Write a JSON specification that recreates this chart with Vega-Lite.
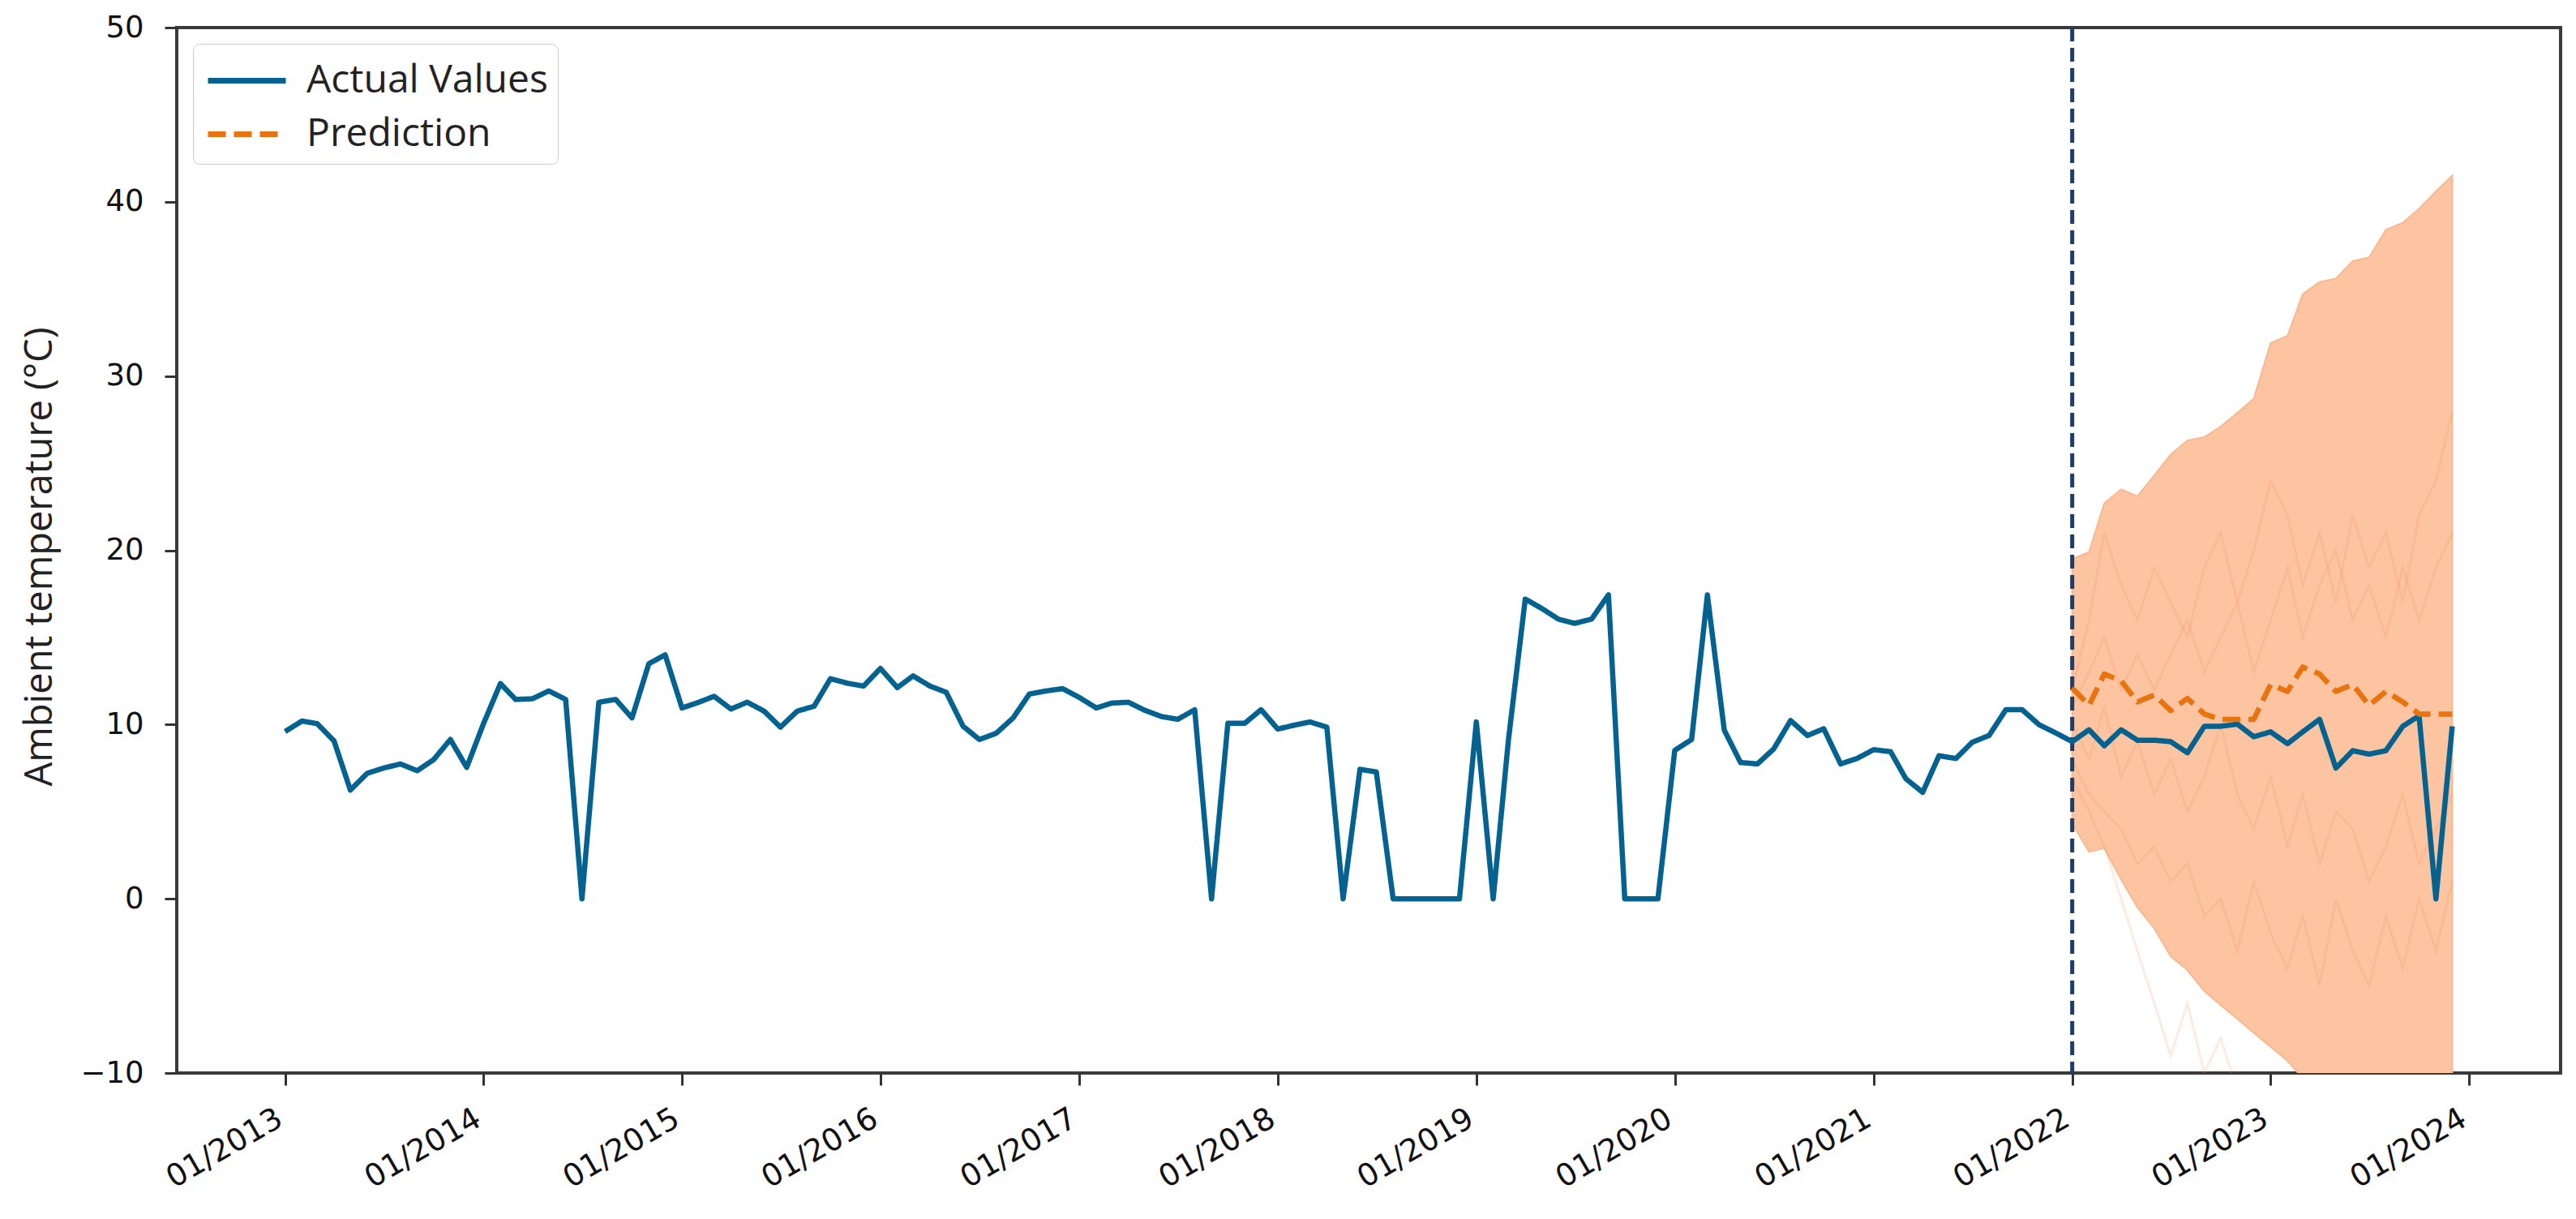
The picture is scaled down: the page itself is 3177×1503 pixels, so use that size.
{
  "$schema": "https://vega.github.io/schema/vega-lite/v6.json",
  "width": 2940,
  "height": 1289,
  "autosize": {"type": "none"},
  "padding": {"left": 218, "top": 34, "right": 19, "bottom": 180},
  "background": "white",
  "config": {
    "font": "DejaVu Sans",
    "view": {"stroke": "#3a3a3a", "strokeWidth": 4}
  },
  "datasets": {
    "lines": [
      {"date": "2013-01-01", "series": "Actual Values", "value": 9.6},
      {"date": "2013-02-01", "series": "Actual Values", "value": 10.2},
      {"date": "2013-03-01", "series": "Actual Values", "value": 10.05},
      {"date": "2013-04-01", "series": "Actual Values", "value": 9.06},
      {"date": "2013-05-01", "series": "Actual Values", "value": 6.24},
      {"date": "2013-06-01", "series": "Actual Values", "value": 7.2},
      {"date": "2013-07-01", "series": "Actual Values", "value": 7.5},
      {"date": "2013-08-01", "series": "Actual Values", "value": 7.74},
      {"date": "2013-09-01", "series": "Actual Values", "value": 7.35},
      {"date": "2013-10-01", "series": "Actual Values", "value": 7.98},
      {"date": "2013-11-01", "series": "Actual Values", "value": 9.14},
      {"date": "2013-12-01", "series": "Actual Values", "value": 7.54},
      {"date": "2014-01-01", "series": "Actual Values", "value": 10.06},
      {"date": "2014-02-01", "series": "Actual Values", "value": 12.35},
      {"date": "2014-03-01", "series": "Actual Values", "value": 11.44},
      {"date": "2014-04-01", "series": "Actual Values", "value": 11.48},
      {"date": "2014-05-01", "series": "Actual Values", "value": 11.93},
      {"date": "2014-06-01", "series": "Actual Values", "value": 11.44},
      {"date": "2014-07-01", "series": "Actual Values", "value": 0},
      {"date": "2014-08-01", "series": "Actual Values", "value": 11.28},
      {"date": "2014-09-01", "series": "Actual Values", "value": 11.44},
      {"date": "2014-10-01", "series": "Actual Values", "value": 10.38},
      {"date": "2014-11-01", "series": "Actual Values", "value": 13.49},
      {"date": "2014-12-01", "series": "Actual Values", "value": 14.0},
      {"date": "2015-01-01", "series": "Actual Values", "value": 10.95},
      {"date": "2015-02-01", "series": "Actual Values", "value": 11.28},
      {"date": "2015-03-01", "series": "Actual Values", "value": 11.62},
      {"date": "2015-04-01", "series": "Actual Values", "value": 10.89},
      {"date": "2015-05-01", "series": "Actual Values", "value": 11.28},
      {"date": "2015-06-01", "series": "Actual Values", "value": 10.77},
      {"date": "2015-07-01", "series": "Actual Values", "value": 9.85},
      {"date": "2015-08-01", "series": "Actual Values", "value": 10.77},
      {"date": "2015-09-01", "series": "Actual Values", "value": 11.05},
      {"date": "2015-10-01", "series": "Actual Values", "value": 12.63},
      {"date": "2015-11-01", "series": "Actual Values", "value": 12.37},
      {"date": "2015-12-01", "series": "Actual Values", "value": 12.21},
      {"date": "2016-01-01", "series": "Actual Values", "value": 13.22},
      {"date": "2016-02-01", "series": "Actual Values", "value": 12.12},
      {"date": "2016-03-01", "series": "Actual Values", "value": 12.79},
      {"date": "2016-04-01", "series": "Actual Values", "value": 12.21},
      {"date": "2016-05-01", "series": "Actual Values", "value": 11.85},
      {"date": "2016-06-01", "series": "Actual Values", "value": 9.9},
      {"date": "2016-07-01", "series": "Actual Values", "value": 9.14},
      {"date": "2016-08-01", "series": "Actual Values", "value": 9.5},
      {"date": "2016-09-01", "series": "Actual Values", "value": 10.38},
      {"date": "2016-10-01", "series": "Actual Values", "value": 11.75},
      {"date": "2016-11-01", "series": "Actual Values", "value": 11.93},
      {"date": "2016-12-01", "series": "Actual Values", "value": 12.06},
      {"date": "2017-01-01", "series": "Actual Values", "value": 11.55},
      {"date": "2017-02-01", "series": "Actual Values", "value": 10.95},
      {"date": "2017-03-01", "series": "Actual Values", "value": 11.23},
      {"date": "2017-04-01", "series": "Actual Values", "value": 11.28},
      {"date": "2017-05-01", "series": "Actual Values", "value": 10.82},
      {"date": "2017-06-01", "series": "Actual Values", "value": 10.46},
      {"date": "2017-07-01", "series": "Actual Values", "value": 10.3},
      {"date": "2017-08-01", "series": "Actual Values", "value": 10.85},
      {"date": "2017-09-01", "series": "Actual Values", "value": 0},
      {"date": "2017-10-01", "series": "Actual Values", "value": 10.07},
      {"date": "2017-11-01", "series": "Actual Values", "value": 10.07},
      {"date": "2017-12-01", "series": "Actual Values", "value": 10.85},
      {"date": "2018-01-01", "series": "Actual Values", "value": 9.74},
      {"date": "2018-02-01", "series": "Actual Values", "value": 9.97},
      {"date": "2018-03-01", "series": "Actual Values", "value": 10.15},
      {"date": "2018-04-01", "series": "Actual Values", "value": 9.85},
      {"date": "2018-05-01", "series": "Actual Values", "value": 0},
      {"date": "2018-06-01", "series": "Actual Values", "value": 7.43},
      {"date": "2018-07-01", "series": "Actual Values", "value": 7.28},
      {"date": "2018-08-01", "series": "Actual Values", "value": 0},
      {"date": "2018-09-01", "series": "Actual Values", "value": 0},
      {"date": "2018-10-01", "series": "Actual Values", "value": 0},
      {"date": "2018-11-01", "series": "Actual Values", "value": 0},
      {"date": "2018-12-01", "series": "Actual Values", "value": 0},
      {"date": "2019-01-01", "series": "Actual Values", "value": 10.15},
      {"date": "2019-02-01", "series": "Actual Values", "value": 0},
      {"date": "2019-03-01", "series": "Actual Values", "value": 9.1},
      {"date": "2019-04-01", "series": "Actual Values", "value": 17.2},
      {"date": "2019-05-01", "series": "Actual Values", "value": 16.67},
      {"date": "2019-06-01", "series": "Actual Values", "value": 16.05},
      {"date": "2019-07-01", "series": "Actual Values", "value": 15.81},
      {"date": "2019-08-01", "series": "Actual Values", "value": 16.05},
      {"date": "2019-09-01", "series": "Actual Values", "value": 17.44},
      {"date": "2019-10-01", "series": "Actual Values", "value": 0},
      {"date": "2019-11-01", "series": "Actual Values", "value": 0},
      {"date": "2019-12-01", "series": "Actual Values", "value": 0},
      {"date": "2020-01-01", "series": "Actual Values", "value": 8.52},
      {"date": "2020-02-01", "series": "Actual Values", "value": 9.14},
      {"date": "2020-03-01", "series": "Actual Values", "value": 17.44},
      {"date": "2020-04-01", "series": "Actual Values", "value": 9.68},
      {"date": "2020-05-01", "series": "Actual Values", "value": 7.82},
      {"date": "2020-06-01", "series": "Actual Values", "value": 7.74},
      {"date": "2020-07-01", "series": "Actual Values", "value": 8.6},
      {"date": "2020-08-01", "series": "Actual Values", "value": 10.23},
      {"date": "2020-09-01", "series": "Actual Values", "value": 9.37},
      {"date": "2020-10-01", "series": "Actual Values", "value": 9.76},
      {"date": "2020-11-01", "series": "Actual Values", "value": 7.74},
      {"date": "2020-12-01", "series": "Actual Values", "value": 8.05},
      {"date": "2021-01-01", "series": "Actual Values", "value": 8.56},
      {"date": "2021-02-01", "series": "Actual Values", "value": 8.44},
      {"date": "2021-03-01", "series": "Actual Values", "value": 6.89},
      {"date": "2021-04-01", "series": "Actual Values", "value": 6.11},
      {"date": "2021-05-01", "series": "Actual Values", "value": 8.21},
      {"date": "2021-06-01", "series": "Actual Values", "value": 8.05},
      {"date": "2021-07-01", "series": "Actual Values", "value": 8.98},
      {"date": "2021-08-01", "series": "Actual Values", "value": 9.37},
      {"date": "2021-09-01", "series": "Actual Values", "value": 10.85},
      {"date": "2021-10-01", "series": "Actual Values", "value": 10.85},
      {"date": "2021-11-01", "series": "Actual Values", "value": 9.99},
      {"date": "2021-12-01", "series": "Actual Values", "value": 9.53},
      {"date": "2022-01-01", "series": "Actual Values", "value": 9.02},
      {"date": "2022-02-01", "series": "Actual Values", "value": 9.7},
      {"date": "2022-03-01", "series": "Actual Values", "value": 8.78},
      {"date": "2022-04-01", "series": "Actual Values", "value": 9.7},
      {"date": "2022-05-01", "series": "Actual Values", "value": 9.1},
      {"date": "2022-06-01", "series": "Actual Values", "value": 9.1},
      {"date": "2022-07-01", "series": "Actual Values", "value": 9.02},
      {"date": "2022-08-01", "series": "Actual Values", "value": 8.38},
      {"date": "2022-09-01", "series": "Actual Values", "value": 9.9},
      {"date": "2022-10-01", "series": "Actual Values", "value": 9.9},
      {"date": "2022-11-01", "series": "Actual Values", "value": 10.02},
      {"date": "2022-12-01", "series": "Actual Values", "value": 9.3},
      {"date": "2023-01-01", "series": "Actual Values", "value": 9.58},
      {"date": "2023-02-01", "series": "Actual Values", "value": 8.9},
      {"date": "2023-03-01", "series": "Actual Values", "value": 9.58},
      {"date": "2023-04-01", "series": "Actual Values", "value": 10.3},
      {"date": "2023-05-01", "series": "Actual Values", "value": 7.5},
      {"date": "2023-06-01", "series": "Actual Values", "value": 8.5},
      {"date": "2023-07-01", "series": "Actual Values", "value": 8.3},
      {"date": "2023-08-01", "series": "Actual Values", "value": 8.5},
      {"date": "2023-09-01", "series": "Actual Values", "value": 9.9},
      {"date": "2023-10-01", "series": "Actual Values", "value": 10.5},
      {"date": "2023-11-01", "series": "Actual Values", "value": 0},
      {"date": "2023-12-01", "series": "Actual Values", "value": 9.9},
      {"date": "2022-01-01", "series": "Prediction", "value": 12.1},
      {"date": "2022-02-01", "series": "Prediction", "value": 11.1},
      {"date": "2022-03-01", "series": "Prediction", "value": 12.9},
      {"date": "2022-04-01", "series": "Prediction", "value": 12.5},
      {"date": "2022-05-01", "series": "Prediction", "value": 11.3},
      {"date": "2022-06-01", "series": "Prediction", "value": 11.7},
      {"date": "2022-07-01", "series": "Prediction", "value": 10.8},
      {"date": "2022-08-01", "series": "Prediction", "value": 11.5},
      {"date": "2022-09-01", "series": "Prediction", "value": 10.6},
      {"date": "2022-10-01", "series": "Prediction", "value": 10.3},
      {"date": "2022-11-01", "series": "Prediction", "value": 10.3},
      {"date": "2022-12-01", "series": "Prediction", "value": 10.3},
      {"date": "2023-01-01", "series": "Prediction", "value": 12.3},
      {"date": "2023-02-01", "series": "Prediction", "value": 11.9},
      {"date": "2023-03-01", "series": "Prediction", "value": 13.3},
      {"date": "2023-04-01", "series": "Prediction", "value": 12.9},
      {"date": "2023-05-01", "series": "Prediction", "value": 11.9},
      {"date": "2023-06-01", "series": "Prediction", "value": 12.3},
      {"date": "2023-07-01", "series": "Prediction", "value": 11.1},
      {"date": "2023-08-01", "series": "Prediction", "value": 11.9},
      {"date": "2023-09-01", "series": "Prediction", "value": 11.3},
      {"date": "2023-10-01", "series": "Prediction", "value": 10.6},
      {"date": "2023-11-01", "series": "Prediction", "value": 10.6},
      {"date": "2023-12-01", "series": "Prediction", "value": 10.6}
    ],
    "band": [
      {"date": "2022-01-01", "lo": 4.3, "hi": 19.5},
      {"date": "2022-02-01", "lo": 2.7, "hi": 19.9},
      {"date": "2022-03-01", "lo": 2.9, "hi": 22.7},
      {"date": "2022-04-01", "lo": 1.1, "hi": 23.5},
      {"date": "2022-05-01", "lo": -0.5, "hi": 23.1},
      {"date": "2022-06-01", "lo": -1.7, "hi": 24.3},
      {"date": "2022-07-01", "lo": -3.3, "hi": 25.5},
      {"date": "2022-08-01", "lo": -4.1, "hi": 26.3},
      {"date": "2022-09-01", "lo": -5.3, "hi": 26.5},
      {"date": "2022-10-01", "lo": -6.1, "hi": 27.1},
      {"date": "2022-11-01", "lo": -6.9, "hi": 27.9},
      {"date": "2022-12-01", "lo": -7.7, "hi": 28.7},
      {"date": "2023-01-01", "lo": -8.5, "hi": 31.9},
      {"date": "2023-02-01", "lo": -9.3, "hi": 32.3},
      {"date": "2023-03-01", "lo": -10.3, "hi": 34.7},
      {"date": "2023-04-01", "lo": -11, "hi": 35.4},
      {"date": "2023-05-01", "lo": -11.5, "hi": 35.6},
      {"date": "2023-06-01", "lo": -12, "hi": 36.6},
      {"date": "2023-07-01", "lo": -12.5, "hi": 36.8},
      {"date": "2023-08-01", "lo": -13, "hi": 38.4},
      {"date": "2023-09-01", "lo": -13.5, "hi": 38.8},
      {"date": "2023-10-01", "lo": -14, "hi": 39.6},
      {"date": "2023-11-01", "lo": -14.5, "hi": 40.6},
      {"date": "2023-12-01", "lo": -15, "hi": 41.5}
    ],
    "samples": [
      {"date": "2022-01-01", "path": "A", "value": 12}, {"date": "2022-02-01", "path": "A", "value": 16}, {"date": "2022-03-01", "path": "A", "value": 21}, {"date": "2022-04-01", "path": "A", "value": 18}, {"date": "2022-05-01", "path": "A", "value": 16}, {"date": "2022-06-01", "path": "A", "value": 19}, {"date": "2022-07-01", "path": "A", "value": 17}, {"date": "2022-08-01", "path": "A", "value": 15}, {"date": "2022-09-01", "path": "A", "value": 19}, {"date": "2022-10-01", "path": "A", "value": 21}, {"date": "2022-11-01", "path": "A", "value": 17}, {"date": "2022-12-01", "path": "A", "value": 20}, {"date": "2023-01-01", "path": "A", "value": 24}, {"date": "2023-02-01", "path": "A", "value": 22}, {"date": "2023-03-01", "path": "A", "value": 18}, {"date": "2023-04-01", "path": "A", "value": 21}, {"date": "2023-05-01", "path": "A", "value": 17}, {"date": "2023-06-01", "path": "A", "value": 22}, {"date": "2023-07-01", "path": "A", "value": 19}, {"date": "2023-08-01", "path": "A", "value": 21}, {"date": "2023-09-01", "path": "A", "value": 17}, {"date": "2023-10-01", "path": "A", "value": 22}, {"date": "2023-11-01", "path": "A", "value": 24}, {"date": "2023-12-01", "path": "A", "value": 28},
      {"date": "2022-01-01", "path": "B", "value": 11}, {"date": "2022-02-01", "path": "B", "value": 13}, {"date": "2022-03-01", "path": "B", "value": 15}, {"date": "2022-04-01", "path": "B", "value": 12}, {"date": "2022-05-01", "path": "B", "value": 14}, {"date": "2022-06-01", "path": "B", "value": 12}, {"date": "2022-07-01", "path": "B", "value": 14}, {"date": "2022-08-01", "path": "B", "value": 16}, {"date": "2022-09-01", "path": "B", "value": 13}, {"date": "2022-10-01", "path": "B", "value": 15}, {"date": "2022-11-01", "path": "B", "value": 17}, {"date": "2022-12-01", "path": "B", "value": 13}, {"date": "2023-01-01", "path": "B", "value": 16}, {"date": "2023-02-01", "path": "B", "value": 19}, {"date": "2023-03-01", "path": "B", "value": 15}, {"date": "2023-04-01", "path": "B", "value": 18}, {"date": "2023-05-01", "path": "B", "value": 20}, {"date": "2023-06-01", "path": "B", "value": 16}, {"date": "2023-07-01", "path": "B", "value": 18}, {"date": "2023-08-01", "path": "B", "value": 15}, {"date": "2023-09-01", "path": "B", "value": 19}, {"date": "2023-10-01", "path": "B", "value": 16}, {"date": "2023-11-01", "path": "B", "value": 19}, {"date": "2023-12-01", "path": "B", "value": 21},
      {"date": "2022-01-01", "path": "C", "value": 8}, {"date": "2022-02-01", "path": "C", "value": 6}, {"date": "2022-03-01", "path": "C", "value": 5}, {"date": "2022-04-01", "path": "C", "value": 4}, {"date": "2022-05-01", "path": "C", "value": 2}, {"date": "2022-06-01", "path": "C", "value": 3}, {"date": "2022-07-01", "path": "C", "value": 1}, {"date": "2022-08-01", "path": "C", "value": 2}, {"date": "2022-09-01", "path": "C", "value": -1}, {"date": "2022-10-01", "path": "C", "value": 0}, {"date": "2022-11-01", "path": "C", "value": -3}, {"date": "2022-12-01", "path": "C", "value": 1}, {"date": "2023-01-01", "path": "C", "value": -2}, {"date": "2023-02-01", "path": "C", "value": -4}, {"date": "2023-03-01", "path": "C", "value": -1}, {"date": "2023-04-01", "path": "C", "value": -5}, {"date": "2023-05-01", "path": "C", "value": 0}, {"date": "2023-06-01", "path": "C", "value": -3}, {"date": "2023-07-01", "path": "C", "value": -5}, {"date": "2023-08-01", "path": "C", "value": -1}, {"date": "2023-09-01", "path": "C", "value": -4}, {"date": "2023-10-01", "path": "C", "value": 0}, {"date": "2023-11-01", "path": "C", "value": -3}, {"date": "2023-12-01", "path": "C", "value": 1},
      {"date": "2022-01-01", "path": "D", "value": 7}, {"date": "2022-02-01", "path": "D", "value": 5}, {"date": "2022-03-01", "path": "D", "value": 3}, {"date": "2022-04-01", "path": "D", "value": 0}, {"date": "2022-05-01", "path": "D", "value": -3}, {"date": "2022-06-01", "path": "D", "value": -6}, {"date": "2022-07-01", "path": "D", "value": -9}, {"date": "2022-08-01", "path": "D", "value": -6}, {"date": "2022-09-01", "path": "D", "value": -10}, {"date": "2022-10-01", "path": "D", "value": -8}, {"date": "2022-11-01", "path": "D", "value": -11}, {"date": "2022-12-01", "path": "D", "value": -12},
      {"date": "2022-01-01", "path": "E", "value": 10}, {"date": "2022-02-01", "path": "E", "value": 8}, {"date": "2022-03-01", "path": "E", "value": 11}, {"date": "2022-04-01", "path": "E", "value": 7}, {"date": "2022-05-01", "path": "E", "value": 9}, {"date": "2022-06-01", "path": "E", "value": 6}, {"date": "2022-07-01", "path": "E", "value": 8}, {"date": "2022-08-01", "path": "E", "value": 5}, {"date": "2022-09-01", "path": "E", "value": 7}, {"date": "2022-10-01", "path": "E", "value": 10}, {"date": "2022-11-01", "path": "E", "value": 6}, {"date": "2022-12-01", "path": "E", "value": 4}, {"date": "2023-01-01", "path": "E", "value": 7}, {"date": "2023-02-01", "path": "E", "value": 3}, {"date": "2023-03-01", "path": "E", "value": 6}, {"date": "2023-04-01", "path": "E", "value": 2}, {"date": "2023-05-01", "path": "E", "value": 5}, {"date": "2023-06-01", "path": "E", "value": 4}, {"date": "2023-07-01", "path": "E", "value": 1}, {"date": "2023-08-01", "path": "E", "value": 3}, {"date": "2023-09-01", "path": "E", "value": 6}, {"date": "2023-10-01", "path": "E", "value": 2}, {"date": "2023-11-01", "path": "E", "value": 4}, {"date": "2023-12-01", "path": "E", "value": 6}
    ],
    "split": [{"date": "2022-01-01"}]
  },
  "encoding": {
    "x": {
      "field": "date",
      "type": "temporal",
      "scale": {
        "type": "utc",
        "domain": [
          {"year": 2012, "month": 6, "date": 15, "hours": 17, "utc": true},
          {"year": 2024, "month": 6, "date": 17, "hours": 7, "utc": true}
        ]
      },
      "axis": {
        "values": [
          {"year": 2013, "month": 1, "date": 1, "utc": true},
          {"year": 2014, "month": 1, "date": 1, "utc": true},
          {"year": 2015, "month": 1, "date": 1, "utc": true},
          {"year": 2016, "month": 1, "date": 1, "utc": true},
          {"year": 2017, "month": 1, "date": 1, "utc": true},
          {"year": 2018, "month": 1, "date": 1, "utc": true},
          {"year": 2019, "month": 1, "date": 1, "utc": true},
          {"year": 2020, "month": 1, "date": 1, "utc": true},
          {"year": 2021, "month": 1, "date": 1, "utc": true},
          {"year": 2022, "month": 1, "date": 1, "utc": true},
          {"year": 2023, "month": 1, "date": 1, "utc": true},
          {"year": 2024, "month": 1, "date": 1, "utc": true}
        ],
        "labelExpr": "utcFormat(datum.value, '%m/%Y')",
        "labelAngle": -30,
        "labelAlign": "right",
        "labelBaseline": "top",
        "labelFont": "DejaVu Sans",
        "labelFontSize": 38,
        "labelColor": "#111111",
        "labelPadding": 22,
        "labelOffset": -16,
        "labelOverlap": false,
        "labelFlush": false,
        "labelBound": false,
        "tickSize": 15,
        "tickWidth": 3,
        "tickColor": "#333333",
        "domain": false,
        "grid": false,
        "title": null
      }
    }
  },
  "layer": [
    {
      "data": {"name": "band"},
      "mark": {"type": "area", "clip": true, "fill": "#fcc4a0", "stroke": "#f8b890", "strokeWidth": 2},
      "encoding": {
        "y": {
          "field": "lo",
          "type": "quantitative",
          "scale": {"domain": [-10, 50], "nice": false, "zero": false},
          "axis": {
            "values": [-10, 0, 10, 20, 30, 40, 50],
            "labelExpr": "replace(datum.label, '-', '\u2212')",
            "labelFont": "DejaVu Sans",
            "labelFontSize": 37,
            "labelColor": "#111111",
            "labelPadding": 26,
            "tickSize": 15,
            "tickWidth": 3,
            "tickColor": "#333333",
            "domain": false,
            "grid": false,
            "title": "Ambient temperature (°C)",
            "titleFont": "Open Sans",
            "titleFontSize": 47,
            "titleFontWeight": "normal",
            "titleColor": "#222222",
            "titleAngle": 270,
            "titleAlign": "center",
            "titleBaseline": "middle",
            "titleX": -169,
            "titleY": 652
          }
        },
        "y2": {"field": "hi"}
      }
    },
    {
      "data": {"name": "samples"},
      "mark": {"type": "line", "clip": true, "stroke": "#f0905e", "opacity": 0.18, "strokeWidth": 3},
      "encoding": {
        "y": {"field": "value", "type": "quantitative"},
        "detail": {"field": "path"}
      }
    },
    {
      "data": {"name": "split"},
      "mark": {"type": "rule", "stroke": "#1c3d6e", "strokeWidth": 5, "strokeDash": [17, 8]},
      "encoding": {}
    },
    {
      "data": {"name": "lines"},
      "mark": {"type": "line", "strokeWidth": 6.5, "strokeJoin": "round", "clip": true},
      "encoding": {
        "y": {"field": "value", "type": "quantitative"},
        "color": {
          "field": "series",
          "type": "nominal",
          "scale": {"domain": ["Actual Values", "Prediction"], "range": ["#03628f", "#e8730f"]},
          "legend": {
            "title": null,
            "orient": "top-left",
            "offset": 20,
            "fillColor": "white",
            "strokeColor": "#cccccc",
            "cornerRadius": 8,
            "padding": 12,
            "symbolType": "M-0.9,0H2.3",
            "symbolSize": 3600,
            "symbolStrokeWidth": 7,
            "labelFont": "Open Sans",
            "labelFontSize": 48,
            "labelLimit": 0,
            "labelColor": "#222222",
            "labelOffset": 61,
            "rowPadding": 8
          }
        },
        "strokeDash": {
          "field": "series",
          "type": "nominal",
          "scale": {"domain": ["Actual Values", "Prediction"], "range": [[1, 0], [22, 10]]},
          "legend": {
            "title": null,
            "orient": "top-left",
            "offset": 20,
            "fillColor": "white",
            "strokeColor": "#cccccc",
            "cornerRadius": 8,
            "padding": 12,
            "symbolType": "M-0.9,0H2.3",
            "symbolSize": 3600,
            "symbolStrokeWidth": 7,
            "labelFont": "Open Sans",
            "labelFontSize": 48,
            "labelLimit": 0,
            "labelColor": "#222222",
            "labelOffset": 61,
            "rowPadding": 8
          }
        }
      }
    }
  ]
}
